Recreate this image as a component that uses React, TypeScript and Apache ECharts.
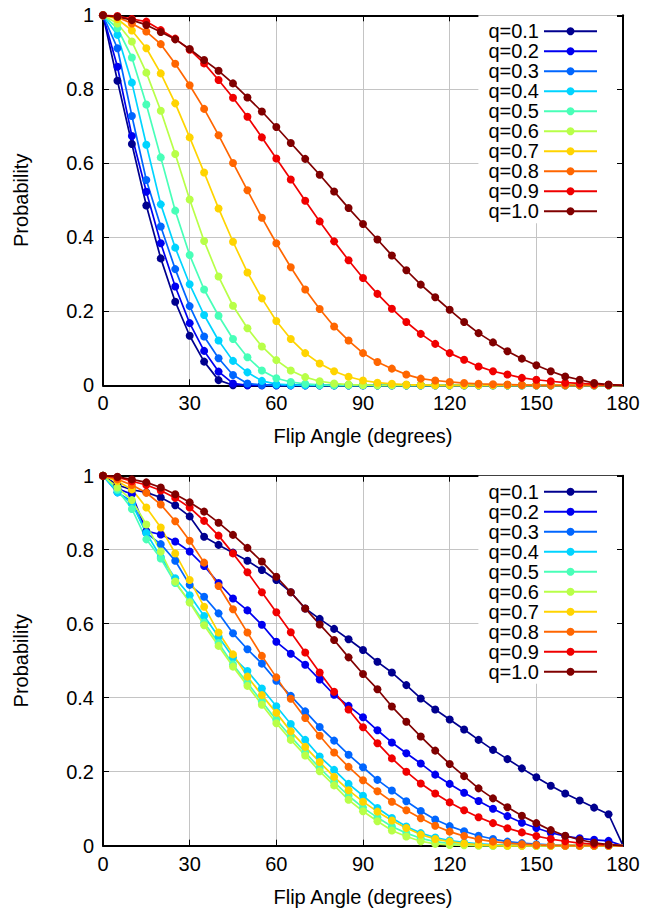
import React, { useEffect, useRef } from "react";
import * as echarts from "echarts";

const angles = [0, 5, 10, 15, 20, 25, 30, 35, 40, 45, 50, 55, 60, 65, 70, 75, 80, 85, 90, 95, 100, 105, 110, 115, 120, 125, 130, 135, 140, 145, 150, 155, 160, 165, 170, 175, 180];
const xTicks = [0, 30, 60, 90, 120, 150, 180];
const yTicks = [0, 0.2, 0.4, 0.6, 0.8, 1];
const qLabels = ["q=0.1", "q=0.2", "q=0.3", "q=0.4", "q=0.5", "q=0.6", "q=0.7", "q=0.8", "q=0.9", "q=1.0"];
const colors = ["#00008f", "#0000f0", "#0066ff", "#00d4ff", "#48ffb8", "#b8ff48", "#ffd400", "#ff6600", "#f00000", "#800000"];

// Top panel
const topQ01 = [1, 0.823, 0.652, 0.486, 0.343, 0.226, 0.134, 0.064, 0.014, 0, 0, 0, 0, 0, 0, 0, 0, 0, 0, 0, 0, 0, 0, 0, 0, 0, 0, 0, 0, 0, 0, 0, 0, 0, 0, 0, 0];
const topQ02 = [1, 0.861, 0.674, 0.523, 0.384, 0.267, 0.168, 0.093, 0.037, 0.005, 0, 0, 0, 0, 0, 0, 0, 0, 0, 0, 0, 0, 0, 0, 0, 0, 0, 0, 0, 0, 0, 0, 0, 0, 0, 0, 0];
const topQ03 = [1, 0.911, 0.728, 0.555, 0.429, 0.314, 0.214, 0.132, 0.073, 0.028, 0.005, 0.001, 0, 0, 0, 0, 0, 0, 0, 0, 0, 0, 0, 0, 0, 0, 0, 0, 0, 0, 0, 0, 0, 0, 0, 0, 0];
const topQ04 = [1, 0.947, 0.818, 0.65, 0.489, 0.372, 0.273, 0.19, 0.121, 0.066, 0.035, 0.012, 0.003, 0.001, 0, 0, 0, 0, 0, 0, 0, 0, 0, 0, 0, 0, 0, 0, 0, 0, 0, 0, 0, 0, 0, 0, 0];
const topQ05 = [1, 0.965, 0.886, 0.759, 0.616, 0.472, 0.352, 0.259, 0.188, 0.125, 0.076, 0.04, 0.019, 0.009, 0.004, 0.001, 0, 0, 0, 0, 0, 0, 0, 0, 0, 0, 0, 0, 0, 0, 0, 0, 0, 0, 0, 0, 0];
const topQ06 = [1, 0.978, 0.929, 0.845, 0.742, 0.625, 0.502, 0.39, 0.294, 0.215, 0.154, 0.105, 0.068, 0.04, 0.022, 0.011, 0.005, 0.002, 0.001, 0, 0, 0, 0, 0, 0, 0, 0, 0, 0, 0, 0, 0, 0, 0, 0, 0, 0];
const topQ07 = [1, 0.99, 0.959, 0.911, 0.843, 0.762, 0.67, 0.575, 0.478, 0.388, 0.305, 0.235, 0.174, 0.125, 0.087, 0.059, 0.038, 0.023, 0.013, 0.007, 0.004, 0.002, 0.001, 0, 0, 0, 0, 0, 0, 0, 0, 0, 0, 0, 0, 0, 0];
const topQ08 = [1, 0.995, 0.978, 0.956, 0.922, 0.869, 0.811, 0.747, 0.676, 0.601, 0.527, 0.453, 0.384, 0.319, 0.259, 0.206, 0.159, 0.121, 0.087, 0.063, 0.045, 0.029, 0.018, 0.013, 0.009, 0.006, 0.004, 0.003, 0.002, 0.001, 0, 0, 0, 0, 0, 0, 0];
const topQ09 = [1, 0.998, 0.99, 0.983, 0.96, 0.937, 0.907, 0.87, 0.825, 0.777, 0.726, 0.67, 0.613, 0.556, 0.499, 0.443, 0.389, 0.338, 0.29, 0.247, 0.207, 0.171, 0.139, 0.112, 0.087, 0.069, 0.051, 0.038, 0.029, 0.02, 0.015, 0.011, 0.007, 0.005, 0.003, 0.001, 0];
const topQ10 = [1, 0.996, 0.987, 0.974, 0.955, 0.935, 0.909, 0.879, 0.85, 0.816, 0.778, 0.74, 0.698, 0.655, 0.612, 0.569, 0.524, 0.479, 0.436, 0.394, 0.351, 0.311, 0.272, 0.238, 0.204, 0.171, 0.141, 0.116, 0.092, 0.072, 0.054, 0.038, 0.024, 0.015, 0.006, 0.002, 0];

// Bottom panel
const botQ01 = [1, 0.975, 0.962, 0.955, 0.941, 0.92, 0.89, 0.835, 0.813, 0.792, 0.77, 0.745, 0.718, 0.685, 0.641, 0.613, 0.586, 0.558, 0.529, 0.497, 0.468, 0.434, 0.398, 0.368, 0.341, 0.314, 0.286, 0.259, 0.234, 0.209, 0.185, 0.162, 0.141, 0.122, 0.103, 0.085, 0];
const botQ02 = [1, 0.965, 0.95, 0.85, 0.841, 0.822, 0.795, 0.756, 0.71, 0.668, 0.636, 0.597, 0.551, 0.519, 0.489, 0.449, 0.408, 0.378, 0.347, 0.312, 0.279, 0.25, 0.222, 0.192, 0.167, 0.143, 0.121, 0.1, 0.08, 0.062, 0.048, 0.035, 0.026, 0.02, 0.016, 0.013, 0];
const botQ03 = [1, 0.955, 0.93, 0.845, 0.815, 0.77, 0.705, 0.673, 0.628, 0.574, 0.531, 0.492, 0.446, 0.405, 0.363, 0.321, 0.284, 0.246, 0.212, 0.178, 0.149, 0.12, 0.094, 0.071, 0.053, 0.039, 0.027, 0.018, 0.011, 0.007, 0.004, 0.002, 0.001, 0, 0, 0, 0];
const botQ04 = [1, 0.955, 0.925, 0.845, 0.78, 0.723, 0.677, 0.621, 0.565, 0.509, 0.472, 0.425, 0.377, 0.329, 0.286, 0.241, 0.205, 0.167, 0.135, 0.102, 0.075, 0.052, 0.034, 0.022, 0.014, 0.009, 0.005, 0.003, 0.002, 0.001, 0, 0, 0, 0, 0, 0, 0];
const botQ05 = [1, 0.962, 0.91, 0.828, 0.776, 0.71, 0.66, 0.603, 0.548, 0.49, 0.44, 0.39, 0.34, 0.295, 0.252, 0.21, 0.172, 0.135, 0.103, 0.076, 0.052, 0.034, 0.02, 0.011, 0.006, 0.003, 0.001, 0, 0, 0, 0, 0, 0, 0, 0, 0, 0];
const botQ06 = [1, 0.968, 0.934, 0.868, 0.795, 0.714, 0.657, 0.596, 0.54, 0.484, 0.432, 0.381, 0.331, 0.286, 0.244, 0.201, 0.163, 0.124, 0.093, 0.066, 0.041, 0.025, 0.012, 0.005, 0.002, 0.001, 0, 0, 0, 0, 0, 0, 0, 0, 0, 0, 0];
const botQ07 = [1, 0.985, 0.963, 0.914, 0.86, 0.79, 0.718, 0.646, 0.576, 0.517, 0.457, 0.407, 0.359, 0.309, 0.267, 0.226, 0.186, 0.15, 0.119, 0.092, 0.068, 0.048, 0.03, 0.018, 0.011, 0.006, 0.003, 0.001, 0, 0, 0, 0, 0, 0, 0, 0, 0];
const botQ08 = [1, 0.99, 0.975, 0.954, 0.922, 0.877, 0.824, 0.765, 0.702, 0.639, 0.576, 0.513, 0.455, 0.397, 0.345, 0.297, 0.252, 0.213, 0.177, 0.147, 0.119, 0.096, 0.074, 0.054, 0.038, 0.026, 0.017, 0.011, 0.007, 0.004, 0.002, 0.001, 0, 0, 0, 0, 0];
const botQ09 = [1, 0.996, 0.985, 0.975, 0.96, 0.94, 0.914, 0.878, 0.838, 0.79, 0.739, 0.685, 0.631, 0.577, 0.522, 0.468, 0.416, 0.368, 0.32, 0.277, 0.236, 0.2, 0.168, 0.141, 0.117, 0.096, 0.077, 0.061, 0.047, 0.036, 0.026, 0.018, 0.012, 0.007, 0.004, 0.002, 0];
const botQ10 = [1, 0.997, 0.99, 0.982, 0.968, 0.95, 0.928, 0.903, 0.873, 0.84, 0.805, 0.768, 0.727, 0.685, 0.641, 0.598, 0.556, 0.509, 0.464, 0.423, 0.376, 0.335, 0.295, 0.257, 0.221, 0.188, 0.155, 0.128, 0.104, 0.081, 0.061, 0.042, 0.027, 0.016, 0.008, 0.003, 0];

const topSets = [topQ01, topQ02, topQ03, topQ04, topQ05, topQ06, topQ07, topQ08, topQ09, topQ10];
const botSets = [botQ01, botQ02, botQ03, botQ04, botQ05, botQ06, botQ07, botQ08, botQ09, botQ10];

const FONT = "'Liberation Sans', Arial, Helvetica, sans-serif";
const FS = 20;

export default function App() {
  const ref = useRef<HTMLDivElement>(null);

  useEffect(() => {
    if (!ref.current) return;
    const chart = echarts.init(ref.current, null, { renderer: "svg" });

    const gridTops = [15.3, 475.7];
    const grids = gridTops.map((t) => ({ left: 103, top: t, width: 520, height: 370, containLabel: false }));

    const xAxes: any[] = [];
    const yAxes: any[] = [];
    const legends: any[] = [];
    const series: any[] = [];

    [0, 1].forEach((g) => {
      const xBase = {
        type: "value",
        gridIndex: g,
        min: xTicks[0],
        max: xTicks[xTicks.length - 1],
        interval: 30,
        axisLine: { show: true, onZero: false, lineStyle: { color: "#000", width: 2 } },
        axisTick: { show: true, inside: true, length: 6, lineStyle: { color: "#000", width: 1 } },
      };
      xAxes.push({
        ...xBase,
        position: "bottom",
        name: "Flip Angle (degrees)",
        nameLocation: "middle",
        nameGap: 41,
        nameTextStyle: { fontSize: FS, fontFamily: FONT, color: "#000" },
        axisLabel: { show: true, fontSize: FS, fontFamily: FONT, color: "#000", margin: 8 },
        splitLine: { show: true, lineStyle: { color: "#c4c4c4", width: 1 } },
      });
      xAxes.push({
        ...xBase,
        position: "top",
        axisLabel: { show: false },
        splitLine: { show: false },
      });
      const yBase = {
        type: "value",
        gridIndex: g,
        min: yTicks[0],
        max: yTicks[yTicks.length - 1],
        interval: 0.2,
        axisLine: { show: true, onZero: false, lineStyle: { color: "#000", width: 2 } },
        axisTick: { show: true, inside: true, length: 6, lineStyle: { color: "#000", width: 1 } },
      };
      yAxes.push({
        ...yBase,
        position: "left",
        name: "Probability",
        nameLocation: "middle",
        nameGap: 72,
        nameTextStyle: { fontSize: FS, fontFamily: FONT, color: "#000" },
        axisLabel: { show: true, fontSize: FS, fontFamily: FONT, color: "#000", margin: 9 },
        splitLine: { show: true, lineStyle: { color: "#c4c4c4", width: 1 } },
      });
      yAxes.push({
        ...yBase,
        position: "right",
        axisLabel: { show: false },
        splitLine: { show: false },
      });

      legends.push({
        orient: "vertical",
        right: 38,
        top: gridTops[g],
        padding: [6, 19, 2, 10],
        align: "right",
        itemWidth: 53,
        itemHeight: 10,
        itemGap: 0,
        itemTextGap: 13,
        backgroundColor: "#fff",
        textStyle: { fontSize: FS, fontFamily: FONT, color: "#000", lineHeight: 20 },
        data: qLabels,
        selectedMode: false,
      });

      const sets = g === 0 ? topSets : botSets;
      sets.forEach((vals, k) => {
        series.push({
          type: "line",
          name: qLabels[k],
          xAxisIndex: g * 2,
          yAxisIndex: g * 2,
          data: angles.map((a, i) =>
            i === angles.length - 1 ? { value: [a, vals[i]], symbol: "none" } : [a, vals[i]]
          ),
          symbol: "circle",
          symbolSize: 8,
          showSymbol: true,
          clip: false,
          lineStyle: { color: colors[k], width: 1.7 },
          itemStyle: { color: colors[k] },
          emphasis: { disabled: true },
        });
      });
    });

    chart.setOption({
      animation: false,
      backgroundColor: "#fff",
      grid: grids,
      xAxis: xAxes,
      yAxis: yAxes,
      legend: legends,
      series,
    });

    return () => chart.dispose();
  }, []);

  return (
    <div
      ref={ref}
      style={{ position: "absolute", left: 0, top: 0, width: 655, height: 909, background: "#fff" }}
    />
  );
}
